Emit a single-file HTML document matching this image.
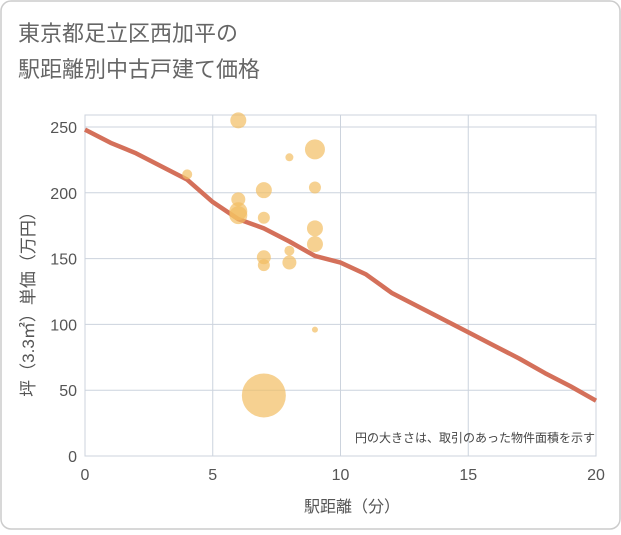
<!DOCTYPE html>
<html><head><meta charset="utf-8"><style>
body{margin:0;background:#fff;font-family:"Liberation Sans","Noto Sans CJK JP",sans-serif;}
#wrap{position:relative;width:621px;height:530px;}
</style></head><body>
<div id="wrap">
<svg id="chart" width="621" height="530" xmlns="http://www.w3.org/2000/svg">
<rect x="1" y="1" width="619" height="528" rx="10" fill="#fff" stroke="#ccc" stroke-width="1.5"/>
<text x="18" y="41" font-size="22" fill="#666">東京都足立区西加平の</text>
<text x="18" y="77" font-size="22" fill="#666">駅距離別中古戸建て価格</text>
<g id="grid"></g>
<g id="line"></g>
<g id="bubbles"></g>
<g id="axes"></g>
<text x="595" y="442" font-size="12" fill="#444" text-anchor="end">円の大きさは、取引のあった物件面積を示す</text>
<text x="352" y="512" font-size="16" fill="#555" text-anchor="middle">駅距離（分）</text>
<text transform="translate(34,300) rotate(-90)" font-size="17" fill="#555" text-anchor="middle">坪（3.3㎡）単価（万円）</text>
</svg>
</div>
<script>
const xTicks=[0,5,10,15,20];
const yTicks=[0,50,100,150,200,250];
const bubbleX=[6,9,8,4,9,7,6,6,6,7,9,9,8,7,7,8,9,7];
const bubbleY=[255,233,227,214,204,202,195,186,183,181,173,161,156,151,145,147,96,46];
const bubbleR=[8,10,4,5,6,8,7,9,9,6,8,8,5,7,6,7,3,22];
const lineX=[0,1,2,3,4,5,6,7,8,9,10,11,12,13,14,15,16,17,18,19,20];
const lineY=[248,238,230,220,210,193,180,173,163,152,147,138,124,114,104,94,84,74,63,53,42];
const X0=85,X1=596,Y0=456,Y1=127;
const sx=v=>X0+(X1-X0)*v/20;
const sy=v=>Y0-(Y0-Y1)*v/250;
const NS="http://www.w3.org/2000/svg";
function mk(tag,parent){const e=document.createElementNS(NS,tag);document.getElementById(parent).appendChild(e);return e;}
const pb=mk('rect','grid');
pb.setAttribute('x',X0);pb.setAttribute('y',Y1-12);pb.setAttribute('width',X1-X0);pb.setAttribute('height',Y0-Y1+12);pb.setAttribute('fill','#fff');pb.setAttribute('stroke','#ccd3dd');


xTicks.forEach(t=>{
 const l=mk('line','grid');l.setAttribute('x1',sx(t));l.setAttribute('x2',sx(t));l.setAttribute('y1',Y1-12);l.setAttribute('y2',Y0);l.setAttribute('stroke','#ccd3dd');
 
 
 const tx=mk('text','axes');tx.setAttribute('x',sx(t));tx.setAttribute('y',Y0+24);tx.setAttribute('font-size','16');tx.setAttribute('fill','#555');tx.setAttribute('text-anchor','middle');tx.textContent=t;
 
 
});
yTicks.forEach(t=>{
 const l=mk('line','grid');l.setAttribute('x1',X0);l.setAttribute('x2',X1);l.setAttribute('y1',sy(t));l.setAttribute('y2',sy(t));l.setAttribute('stroke','#ccd3dd');
 
 
 const tx=mk('text','axes');tx.setAttribute('x',X0-8);tx.setAttribute('y',sy(t)+6);tx.setAttribute('font-size','16');tx.setAttribute('fill','#555');tx.setAttribute('text-anchor','end');tx.textContent=t;
 
 
});
const p=mk('polyline','line');
p.setAttribute('points',lineX.map((x,i)=>sx(x)+','+sy(lineY[i])).join(' '));
p.setAttribute('fill','none');p.setAttribute('stroke','#d4705a');p.setAttribute('stroke-width','4.5');p.setAttribute('stroke-linejoin','round');


bubbleX.forEach((x,i)=>{
 const c=mk('circle','bubbles');c.setAttribute('cx',sx(x));c.setAttribute('cy',sy(bubbleY[i]));c.setAttribute('r',bubbleR[i]);c.setAttribute('fill','#f2bd62');c.setAttribute('fill-opacity','0.7');
 
 
});
</script>
</body></html>
